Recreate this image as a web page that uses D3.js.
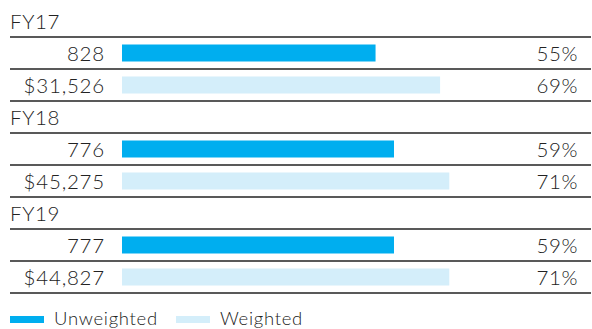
<!DOCTYPE html>
<html><head><meta charset="utf-8">
<script src="https://cdn.jsdelivr.net/npm/d3@7"></script>
<style>
html,body{margin:0;padding:0;background:#fff;}
svg{display:block;}
text{font-family:Lato,"Open Sans",sans-serif;font-weight:300;fill:#222;}
</style></head>
<body>
<svg id="c" width="592" height="329"></svg>
<script>
const years = ["FY17", "FY18", "FY19"];
const unweightedCounts = ["828", "776", "777"];
const weightedAmounts = ["$31,526", "$45,275", "$44,827"];
const unweightedPct = [55, 59, 59];
const weightedPct = [69, 71, 71];
const seriesNames = ["Unweighted", "Weighted"];
const colors = ["#00AEEF", "#D4EEFA"];

const svg = d3.select("#c");
const left = 10, right = 591;
const x = d3.scaleLinear().domain([0, 100]).range([122, 583]);
const rowH = 32, top0 = 37;

const rows = [];
years.forEach((y, i) => {
  rows.push({kind: "label", text: y, g: i});
  rows.push({kind: "bar", s: 0, label: unweightedCounts[i], pct: unweightedPct[i], g: i});
  rows.push({kind: "bar", s: 1, label: weightedAmounts[i], pct: weightedPct[i], g: i});
});
const band = d3.scaleBand().domain(d3.range(rows.length)).range([top0 - rowH, top0 - rowH + rows.length * rowH]);

rows.forEach((r, k) => {
  const y0 = band(k), y1 = y0 + band.bandwidth();
  const cy = (y0 + y1) / 2;
  if (r.kind === "label") {
    svg.append("text").attr("x", left).attr("y", y1 - 8).attr("font-size", 20.5)
      .attr("letter-spacing", 0.6).text(r.text);
  } else {
    svg.append("text").attr("x", 105).attr("y", cy + 7.5).attr("text-anchor", "end")
      .attr("font-size", 20.5).attr("letter-spacing", 0.8).text(r.label);
    svg.append("rect").attr("x", x(0)).attr("y", cy - 8.5).attr("width", x(r.pct) - x(0))
      .attr("height", 17).attr("fill", colors[r.s]);
    svg.append("text").attr("x", 578).attr("y", cy + 7.5).attr("text-anchor", "end")
      .attr("font-size", 20.5).attr("letter-spacing", 0.6).text(r.pct + "%");
  }
  svg.append("line").attr("x1", left).attr("x2", right).attr("y1", y1).attr("y2", y1)
    .attr("stroke", "#222").attr("stroke-width", 1.3);
});

const legX = [10, 176];
seriesNames.forEach((n, i) => {
  svg.append("rect").attr("x", legX[i]).attr("y", 316).attr("width", 34).attr("height", 7).attr("fill", colors[i]);
  svg.append("text").attr("x", legX[i] + 44).attr("y", 325).attr("font-size", 18.5)
    .attr("letter-spacing", 0.7).text(n);
});
</script>
</body></html>
